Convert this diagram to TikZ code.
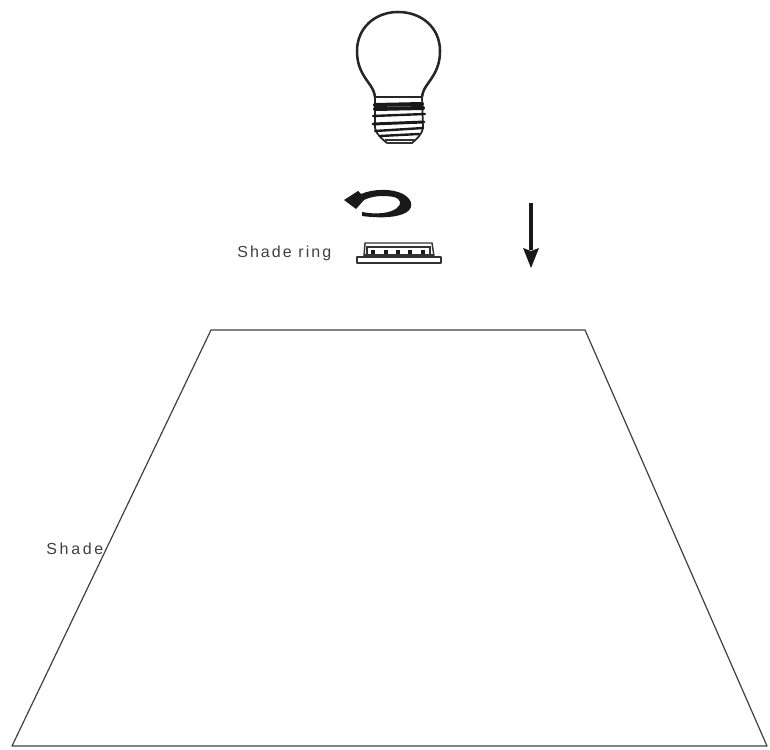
\documentclass[tikz,border=0pt]{standalone}
\usepackage{fontspec}
\setmainfont{Liberation Sans}
\newfontfamily\labelfontA[LetterSpace=13]{Liberation Sans}
\newfontfamily\labelfontB[LetterSpace=17]{Liberation Sans}
\tikzset{
  outline/.style={draw=black!75,line width=0.9pt,line join=round},
  bulbline/.style={draw=black!85,line width=1.9pt,line join=round,line cap=round},
  thread/.style={draw=black!90,line width=1.8pt,line cap=round},
  thinthread/.style={draw=black!80,line width=1pt},
  ringline/.style={draw=black!80,line width=1.1pt,line join=round},
  lbl/.style={inner sep=0pt,text=black!75,font=\fontsize{12pt}{14pt}\selectfont},
}
\begin{document}
\begin{tikzpicture}[x=0.75pt,y=-0.75pt]
\useasboundingbox (0,0) rectangle (770,749);
% shade
\coordinate (sa) at (211,330);
\coordinate (sb) at (585,330);
\coordinate (sc) at (767,746);
\coordinate (sd) at (12,746);
\draw[outline] (sa) -- (sb) -- (sc) -- (sd) -- cycle;
\node[lbl,anchor=base west] (shadelabel) at (46,554) {\labelfontB Shade};
\node[lbl,anchor=base west] (ringlabel) at (237,257) {\labelfontA Shade ring};
% bulb glass
\draw[bulbline] (375,97) .. controls (374,88) and (368,83) .. (364,76)
  .. controls (359,68) and (357,60) .. (357,51)
  .. controls (357,28) and (375,12) .. (398,12)
  .. controls (422,12) and (440,28) .. (440,51)
  .. controls (440,60) and (438,68) .. (433,76)
  .. controls (429,83) and (423,88) .. (422,97);
% bulb base
\draw[bulbline,line width=1.3pt] (375,97) -- (422,97) (375,97) -- (375,128)
  .. controls (376,134) and (382,139) .. (387,143) -- (412,143)
  .. controls (417,139) and (422,134) .. (423,128) -- (422,97);
\draw[thinthread] (387,143) -- (412,143) (385,140) -- (415,140);
\draw[thread,line width=3pt] (375,105) -- (422,104);
\draw[thread,line width=3pt] (375,109) -- (423,108);
\draw[thread] (373,116) -- (425,114);
\draw[thread,line width=2.2pt] (373,124) -- (424,122);
\draw[thread] (375,131) -- (423,128);
\draw[thread] (380,136) -- (419,134);
% rotation arrow
\fill[black!90] (344,200) -- (358,191) -- (361,194)
  .. controls (372,189) and (392,188) .. (403,194)
  .. controls (414,200) and (414,210) .. (403,214)
  .. controls (393,218) and (377,218) .. (362,216)
  -- (362,212)
  .. controls (377,215) and (391,213) .. (397,208)
  .. controls (402,204) and (401,199) .. (394,197)
  .. controls (383,195) and (372,196) .. (364,200)
  -- (356,209) -- cycle;
% shade ring
\draw[ringline] (364,256) -- (365,243) -- (432,243) -- (434,256);
\draw[ringline,line width=0.8pt] (366,247) -- (431,247);
\draw[ringline,line width=1pt] (367,247) -- (367,255) (430,247) -- (430,255);
\foreach \tx in {373,386,398,410,423}{
  \draw[draw=black!90,line width=2.6pt] (\tx,250) -- (\tx,256);
}
\draw[ringline,line width=1.6pt] (364,255.5) -- (434,255.5);
\draw[ringline,fill=white] (357,257) rectangle (441,263);
% down arrow
\coordinate (ta) at (531,203);
\coordinate (tb) at (531,250);
\draw[black!90,line width=3.2pt] (ta) -- (tb);
\fill[black!90] (523,248) -- (531,251) -- (539,248) -- (531,268) -- cycle;
\end{tikzpicture}
\end{document}
